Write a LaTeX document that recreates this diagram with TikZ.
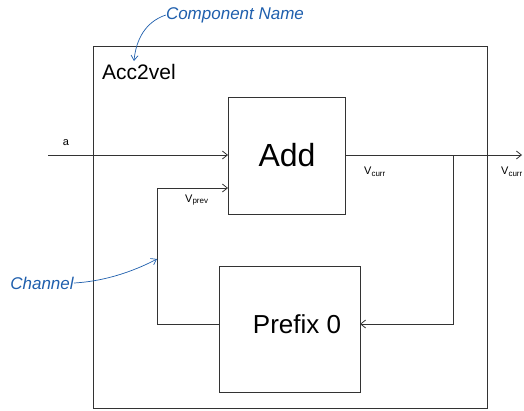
\documentclass[tikz,border=0pt]{standalone}
\usepackage{fontspec}
\setmainfont{Liberation Sans}
\usetikzlibrary{arrows.meta}
\definecolor{note}{HTML}{1F5FAD}
\definecolor{ln}{HTML}{333333}
\tikzset{
  blk/.style={draw=ln, line width=0.9pt, inner sep=0pt},
  wire/.style={draw=ln, line width=0.8pt},
  tip/.style={-{Straight Barb[length=5pt,width=8pt]}},
  notetext/.style={text=note, font=\fontsize{17}{20}\selectfont\itshape, inner sep=0pt},
  notearrow/.style={draw=note, line width=0.7pt, -{Straight Barb[length=5pt,width=7pt]}},
  sig/.style={font=\fontsize{11}{13}\selectfont, inner sep=0pt}
}
\newcommand{\sigv}[1]{V\textsubscript{\fontsize{8}{9}\selectfont #1}}
\begin{document}
\begin{tikzpicture}[x=1pt,y=-1pt]
\useasboundingbox (0,0) rectangle (524,410);
% outer component
\draw[blk] (93,46) rectangle (487,408);
\node[anchor=west, font=\fontsize{21}{24}\selectfont, inner sep=0pt] (acc) at (102,72) {Acc2vel};
% inner blocks
\draw[blk] (228,97) rectangle (345,214);
\coordinate (addw1) at (228,155);
\coordinate (addw2) at (228,188);
\coordinate (adde) at (345,155);
\node[font=\fontsize{32}{36}\selectfont, inner sep=0pt] (add) at (287,155) {Add};
\draw[blk] (219,266) rectangle (360,392);
\coordinate (prew) at (219,324);
\coordinate (pree) at (360,324);
\node[font=\fontsize{26}{30}\selectfont, inner sep=0pt] (pre) at (297,324) {Prefix 0};
% wires
\coordinate (ain) at (48,155);
\coordinate (out) at (522,155);
\coordinate (split) at (453,155);
\coordinate (fbr) at (453,324);
\coordinate (fbl) at (157,324);
\coordinate (fbt) at (157,188);
\draw[wire,tip] (ain) -- (addw1);
\draw[wire,tip] (adde) -- (out);
\draw[wire,tip] (split) -- (fbr) -- (pree);
\draw[wire,tip] (prew) -- (fbl) -- (fbt) -- (addw2);
% signal labels
\node[sig] (la) at (66,143) {a};
\node[sig, anchor=west] (lc1) at (364,172) {\sigv{curr}};
\node[sig, anchor=west] (lp) at (185,200) {\sigv{prev}};
\node[sig, anchor=west] (lc2) at (501,172) {\sigv{curr}};
% annotations
\node[notetext] (cn) at (235,15) {Component Name};
\node[notetext] (ch) at (42,283) {Channel};
\coordinate (cnend) at (134,61);
\coordinate (chend) at (157,259);
\draw[notearrow] (cn.west) .. controls (145,22) and (136,40) .. (cnend);
\draw[notearrow] (ch.east) .. controls (110,281) and (140,268) .. (chend);
\end{tikzpicture}
\end{document}
